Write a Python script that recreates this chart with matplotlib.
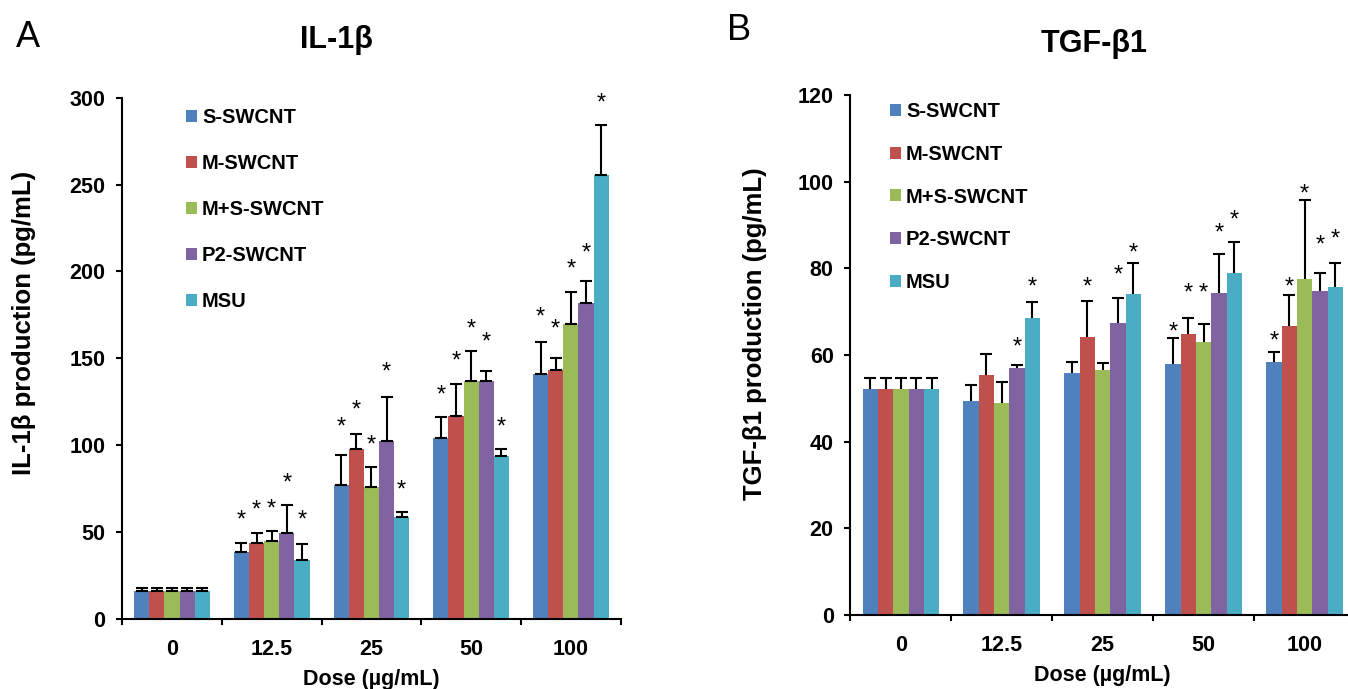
import matplotlib
matplotlib.use("Agg")
import matplotlib.pyplot as plt
import numpy as np

plt.rcParams['font.family'] = ['Liberation Sans', 'DejaVu Sans']

doses = ['0', '12.5', '25', '50', '100']
series = ['S-SWCNT', 'M-SWCNT', 'M+S-SWCNT', 'P2-SWCNT', 'MSU']
colors = ['#4F81BD', '#C0504D', '#9BBB59', '#8064A2', '#4BACC6']

# IL-1beta (pg/mL)
il1b_S = [16, 38.3, 77.2, 104.0, 141.2]
il1b_M = [16, 43.4, 97.5, 116.9, 143.2]
il1b_MS = [16, 44.9, 75.7, 136.9, 169.8]
il1b_P2 = [16, 49.6, 102.5, 136.9, 181.7]
il1b_MSU = [16, 34.0, 58.3, 93.8, 255.8]
il1b_err_S = [1.6, 5.0, 17.0, 12.0, 18.0]
il1b_err_M = [1.6, 6.0, 8.7, 18.0, 7.0]
il1b_err_MS = [1.6, 5.7, 11.7, 17.0, 18.5]
il1b_err_P2 = [1.6, 16.0, 25.0, 5.5, 12.7]
il1b_err_MSU = [1.6, 9.0, 3.0, 4.0, 28.4]
il1b_star_S = [None, 60.7, 113.8, 132.3, 177.6]
il1b_star_M = [None, 66.0, 123.7, 151.9, 170.8]
il1b_star_MS = [None, 66.9, 103.5, 170.8, 205.0]
il1b_star_P2 = [None, 81.9, 145.7, 163.2, 214.6]
il1b_star_MSU = [None, 60.7, 77.8, 114.2, 301.0]

# TGF-beta1 (pg/mL)
tgf_S = [52.2, 49.4, 55.9, 57.9, 58.3]
tgf_M = [52.2, 55.4, 64.1, 64.8, 66.6]
tgf_MS = [52.2, 48.8, 56.5, 62.9, 77.6]
tgf_P2 = [52.2, 57.1, 67.4, 74.3, 74.8]
tgf_MSU = [52.2, 68.6, 74.2, 79.0, 75.8]
tgf_err_S = [2.5, 3.7, 2.4, 6.0, 2.3]
tgf_err_M = [2.5, 4.8, 8.3, 3.7, 7.2]
tgf_err_MS = [2.5, 4.9, 1.6, 4.3, 18.3]
tgf_err_P2 = [2.5, 0.6, 5.8, 9.0, 4.2]
tgf_err_MSU = [2.5, 3.7, 7.1, 7.1, 5.5]
tgf_star_S = [None, None, None, 66.8, 64.8]
tgf_star_M = [None, None, 77.1, 75.7, 77.3]
tgf_star_MS = [None, None, None, 75.7, 98.8]
tgf_star_P2 = [None, 63.3, 80.0, 89.7, 86.8]
tgf_star_MSU = [None, 77.1, 85.1, 92.7, 88.2]

W, H = 1348, 689
fig = plt.figure(figsize=(W / 100, H / 100), dpi=100)


def px_axes(l, r, t, b):
    return fig.add_axes([l / W, (H - b) / H, (r - l) / W, (b - t) / H])


def panel(ax, vals, errs, stars, ymax, ystep, ylabel, lower_cap, label_pos,
          leg_anchor, leg_spacing):
    x = np.arange(len(doses))
    bw = 0.152
    handles = []
    for i, (v, e, s) in enumerate(zip(vals, errs, stars)):
        xs = x + (i - 2) * bw
        b = ax.bar(xs, v, width=bw, color=colors[i], label=series[i], zorder=2)
        handles.append(b)
        eb = ax.errorbar(xs, v, yerr=[np.zeros(len(e)), e], fmt='none',
                         ecolor='black', elinewidth=1.5, capsize=4.5,
                         capthick=1.5, zorder=3)
        if not lower_cap:
            eb[1][0].set_visible(False)
        for xi, si in zip(xs, s):
            if si is not None:
                ax.annotate('*', (xi, si), xytext=(0, -5),
                            textcoords='offset points', ha='center',
                            va='center', fontsize=17, zorder=4,
                            annotation_clip=False)
    ax.set_xlim(-0.5, len(doses) - 0.5)
    ax.set_ylim(0, ymax)
    ax.set_yticks(np.arange(0, ymax + 0.1, ystep))
    ax.set_xticks(np.arange(len(doses) + 1) - 0.5)
    ax.set_xticklabels([])
    ax.set_xticks(x, minor=True)
    ax.set_xticklabels(doses, minor=True)
    ax.tick_params(axis='x', which='minor', length=0, pad=15, labelsize=15.5)
    ax.tick_params(axis='x', which='major', length=4, width=1.5, direction='out')
    ax.tick_params(axis='y', length=4, width=1.5, direction='out', pad=8,
                   labelsize=15.5)
    for lab in ax.get_xticklabels(minor=True) + ax.get_yticklabels():
        lab.set_fontweight('bold')
    for sp in ['top', 'right']:
        ax.spines[sp].set_visible(False)
    for sp in ['left', 'bottom']:
        ax.spines[sp].set_linewidth(1.5)
    ax.set_xlabel('Dose (µg/mL)', fontsize=15.5, fontweight='bold', labelpad=6)
    fig.text(label_pos[0], label_pos[1], ylabel, rotation=90, ha='center',
             va='center', fontsize=18.5, fontweight='bold')
    leg = ax.legend(handles=handles, loc='upper left', bbox_to_anchor=leg_anchor,
                    bbox_transform=fig.transFigure, frameon=False, fontsize=14.5,
                    handlelength=0.55, handleheight=0.55, handletextpad=0.25,
                    labelspacing=leg_spacing, borderpad=0, borderaxespad=0)
    for t in leg.get_texts():
        t.set_fontweight('bold')


axA = px_axes(122.1, 620.7, 97.9, 618.6)
panel(axA,
      [il1b_S, il1b_M, il1b_MS, il1b_P2, il1b_MSU],
      [il1b_err_S, il1b_err_M, il1b_err_MS, il1b_err_P2, il1b_err_MSU],
      [il1b_star_S, il1b_star_M, il1b_star_MS, il1b_star_P2, il1b_star_MSU],
      300, 50, 'IL-1β production (pg/mL)', True, (24 / W, 1 - 323 / H),
      (186 / W, 1 - 108 / H), 1.34)

axB = px_axes(850.4, 1355, 95.4, 614.6)
panel(axB,
      [tgf_S, tgf_M, tgf_MS, tgf_P2, tgf_MSU],
      [tgf_err_S, tgf_err_M, tgf_err_MS, tgf_err_P2, tgf_err_MSU],
      [tgf_star_S, tgf_star_M, tgf_star_MS, tgf_star_P2, tgf_star_MSU],
      120, 20, 'TGF-β1 production (pg/mL)', False, (755 / W, 1 - 333.5 / H),
      (890 / W, 1 - 102 / H), 1.18)

fig.text(16 / W, 1 - 47 / H, 'A', fontsize=26, ha='left', va='baseline')
fig.text(727 / W, 1 - 40 / H, 'B', fontsize=26, ha='left', va='baseline')
fig.text(336 / W, 1 - 48 / H, 'IL-1β', fontsize=22, fontweight='bold',
         ha='center', va='baseline')
fig.text(1094 / W, 1 - 52 / H, 'TGF-β1', fontsize=22, fontweight='bold',
         ha='center', va='baseline')

fig.savefig('out.png', dpi=100)
